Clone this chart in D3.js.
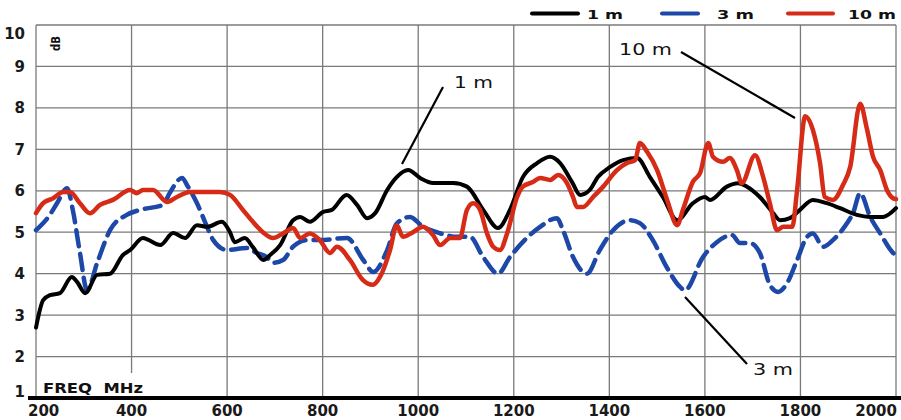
<!DOCTYPE html>
<html>
<head>
<meta charset="utf-8">
<script src="https://cdn.jsdelivr.net/npm/d3@7/dist/d3.min.js"></script>
<style>
  html, body { margin: 0; padding: 0; background: #fff; }
  svg { display: block; }
</style>
</head>
<body>
<div id="chart"></div>
<script>
// ---- Data ----
const xTicks = [200, 400, 600, 800, 1000, 1200, 1400, 1600, 1800, 2000];
const yTicks = [1, 2, 3, 4, 5, 6, 7, 8, 9, 10];
const seriesNames = ["1 m", "3 m", "10 m"];

const freq1m = [200, 215, 229, 250, 275, 286, 303, 328, 355, 382, 397, 424, 434, 460, 487, 512, 537, 558, 589, 606, 616, 637, 654, 676, 690, 711, 738, 753, 773, 801, 819, 850, 872, 893, 910, 935, 955, 979, 1004, 1031, 1073, 1102, 1136, 1167, 1192, 1219, 1249, 1276, 1297, 1322, 1339, 1359, 1376, 1401, 1429, 1458, 1485, 1512, 1542, 1575, 1600, 1611, 1646, 1669, 1688, 1715, 1743, 1757, 1778, 1799, 1826, 1855, 1883, 1918, 1946, 1973, 2000];
const db1m = [2.7, 3.36, 3.48, 3.53, 3.92, 3.8, 3.53, 3.97, 4.0, 4.45, 4.57, 4.86, 4.82, 4.69, 4.98, 4.86, 5.17, 5.13, 5.25, 5.0, 4.76, 4.86, 4.64, 4.33, 4.45, 4.69, 5.29, 5.37, 5.25, 5.49, 5.54, 5.9, 5.66, 5.34, 5.46, 6.02, 6.33, 6.5, 6.31, 6.19, 6.19, 6.1, 5.54, 5.1, 5.54, 6.33, 6.67, 6.82, 6.67, 6.21, 5.9, 6.02, 6.33, 6.57, 6.74, 6.79, 6.33, 5.85, 5.29, 5.7, 5.85, 5.78, 6.1, 6.18, 6.1, 5.85, 5.46, 5.29, 5.34, 5.54, 5.78, 5.7, 5.58, 5.42, 5.37, 5.37, 5.58];

const freq3m = [200, 229, 244, 265, 277, 292, 307, 328, 355, 390, 418, 466, 480, 506, 516, 537, 558, 571, 600, 641, 662, 683, 696, 717, 738, 767, 794, 851, 885, 906, 935, 955, 983, 1010, 1039, 1081, 1108, 1136, 1167, 1192, 1227, 1255, 1290, 1303, 1324, 1353, 1380, 1408, 1443, 1464, 1491, 1520, 1548, 1558, 1596, 1625, 1657, 1673, 1694, 1715, 1736, 1753, 1772, 1793, 1814, 1826, 1847, 1868, 1897, 1910, 1925, 1946, 1967, 1994, 2000];
const db3m = [5.05, 5.42, 5.7, 6.06, 5.54, 4.5, 3.6, 4.26, 5.05, 5.42, 5.54, 5.66, 5.95, 6.31, 6.14, 5.7, 5.13, 4.81, 4.57, 4.62, 4.5, 4.4, 4.26, 4.33, 4.65, 4.81, 4.81, 4.86, 4.33, 4.04, 4.57, 5.21, 5.37, 5.13, 5.0, 4.89, 4.89, 4.4, 4.0, 4.4, 4.86, 5.13, 5.34, 5.05, 4.4, 4.0, 4.57, 5.05, 5.29, 5.22, 4.81, 4.16, 3.68, 3.6, 4.4, 4.76, 4.93, 4.74, 4.74, 4.5, 3.73, 3.56, 3.77, 4.33, 4.89, 4.97, 4.65, 4.81, 5.21, 5.46, 5.94, 5.37, 4.97, 4.5, 4.45];

const freq10m = [200, 215, 236, 257, 271, 292, 313, 334, 361, 397, 411, 424, 445, 474, 495, 522, 558, 585, 606, 633, 654, 675, 696, 717, 738, 753, 773, 794, 815, 830, 857, 884, 905, 920, 941, 955, 968, 989, 1010, 1031, 1046, 1067, 1087, 1102, 1115, 1129, 1144, 1157, 1171, 1186, 1207, 1219, 1240, 1255, 1276, 1293, 1311, 1324, 1332, 1345, 1366, 1387, 1416, 1437, 1454, 1464, 1479, 1500, 1521, 1542, 1554, 1575, 1590, 1607, 1617, 1638, 1652, 1667, 1677, 1705, 1722, 1736, 1751, 1764, 1783, 1793, 1810, 1826, 1841, 1851, 1868, 1889, 1904, 1925, 1939, 1952, 1967, 1981, 1994, 2000];
const db10m = [5.46, 5.7, 5.82, 5.97, 5.97, 5.7, 5.46, 5.66, 5.78, 6.02, 5.94, 6.02, 6.02, 5.73, 5.85, 5.97, 5.97, 5.97, 5.9, 5.54, 5.25, 5.0, 4.86, 4.97, 5.1, 4.86, 4.97, 4.81, 4.5, 4.65, 4.33, 3.85, 3.73, 3.92, 4.57, 5.17, 4.89, 5.0, 5.13, 4.93, 4.69, 4.86, 4.86, 5.54, 5.7, 5.55, 4.97, 4.65, 4.57, 4.97, 5.85, 6.1, 6.21, 6.31, 6.26, 6.38, 6.19, 5.85, 5.61, 5.61, 5.85, 6.1, 6.5, 6.67, 6.74, 7.15, 6.94, 6.5, 5.78, 5.17, 5.54, 6.22, 6.43, 7.15, 6.82, 6.7, 6.79, 6.5, 6.18, 6.86, 6.33, 5.7, 5.05, 5.13, 5.13, 6.02, 7.8, 7.47, 6.67, 5.85, 5.78, 6.14, 6.57, 8.1, 7.5, 6.82, 6.5, 6.02, 5.82, 5.8];

// ---- Layout ----
const W = 901, H = 420;
const svg = d3.select("#chart").append("svg")
  .attr("width", W).attr("height", H)
  .style("font-family", "'DejaVu Sans', sans-serif");

svg.append("rect").attr("width", W).attr("height", H).attr("fill", "#fff");

const x = d3.scaleLinear().domain([200, 2000]).range([36, 896]);
const y = d3.scaleLinear().domain([1, 10]).range([398, 25]);

const gridColor = "#7a7a7a";

// horizontal grid lines
svg.append("g").selectAll("line").data(yTicks.filter(d => d > 1)).join("line")
  .attr("x1", x(200)).attr("x2", x(2000))
  .attr("y1", d => y(d)).attr("y2", d => y(d))
  .attr("stroke", gridColor).attr("stroke-width", 1.3);

// vertical grid lines
svg.append("g").selectAll("line").data(xTicks).join("line")
  .attr("x1", d => x(d)).attr("x2", d => x(d))
  .attr("y1", y(10)).attr("y2", y(1))
  .attr("stroke", gridColor).attr("stroke-width", 1.3);

// white box behind the FREQ MHz label
svg.append("rect").attr("x", x(200) + 1.5).attr("y", 373)
  .attr("width", 115).attr("height", 24).attr("fill", "#fff");

// y tick labels
svg.append("g").selectAll("text").data(yTicks).join("text")
  .attr("x", 25).attr("y", d => y(d))
  .attr("dy", d => d === 10 ? "0.95em" : (d === 1 ? "-0.05em" : "0.36em"))
  .attr("text-anchor", "end")
  .attr("font-size", 15).attr("font-weight", "bold").attr("fill", "#1a1a1a")
  .text(d => d);

// x tick labels
svg.append("g").selectAll("text").data(xTicks).join("text")
  .attr("x", d => d === 200 ? x(d) - 8 : (d === 2000 ? x(d) + 1 : x(d)))
  .attr("y", 416)
  .attr("text-anchor", d => d === 200 ? "start" : (d === 2000 ? "end" : "middle"))
  .attr("font-size", 15).attr("font-weight", "bold").attr("fill", "#1a1a1a")
  .text(d => d);

// thick bottom axis
svg.append("line").attr("x1", 28).attr("x2", W).attr("y1", y(1)).attr("y2", y(1))
  .attr("stroke", "#000").attr("stroke-width", 4);

// axis titles
svg.append("text").attr("x", 43).attr("y", 393)
  .attr("font-size", 14.5).attr("font-weight", "bold").attr("fill", "#111")
  .attr("xml:space", "preserve")
  .attr("textLength", 100).attr("lengthAdjust", "spacingAndGlyphs")
  .text("FREQ  MHz");
svg.append("text").attr("transform", "translate(60,51) rotate(-90)")
  .attr("font-size", 13).attr("font-weight", "bold").attr("fill", "#111")
  .attr("textLength", 15).attr("lengthAdjust", "spacingAndGlyphs")
  .text("dB");

// ---- Series ----
const line = d3.line().x(d => x(d[0])).y(d => y(d[1])).curve(d3.curveMonotoneX);
const zip = (a, b) => a.map((v, i) => [v, b[i]]);

const series = [
  { name: seriesNames[0], data: zip(freq1m, db1m), color: "#000000", width: 4, dash: null },
  { name: seriesNames[1], data: zip(freq3m, db3m), color: "#1d48a8", width: 4.5, dash: "16,8" },
  { name: seriesNames[2], data: zip(freq10m, db10m), color: "#d62b17", width: 4.5, dash: null }
];

// draw order: 3 m, 1 m, 10 m (red on top)
[series[1], series[0], series[2]].forEach(s => {
  svg.append("path").datum(s.data)
    .attr("d", line)
    .attr("fill", "none")
    .attr("stroke", s.color)
    .attr("stroke-width", s.width)
    .attr("stroke-linejoin", "round")
    .attr("stroke-linecap", "round")
    .attr("stroke-dasharray", s.dash);
});

// ---- Legend ----
const legendLine = [[532, 578], [662, 698], [788, 833]];
const legendText = [587, 717, 848];
const legendLen = [36, 37, 48];
const lg = svg.append("g");
series.forEach((s, i) => {
  lg.append("line").attr("x1", legendLine[i][0]).attr("x2", legendLine[i][1])
    .attr("y1", 13.5).attr("y2", 13.5)
    .attr("stroke", s.color).attr("stroke-width", 4).attr("stroke-linecap", "round");
  lg.append("text").attr("x", legendText[i]).attr("y", 19)
    .attr("font-size", 13).attr("font-weight", "bold").attr("fill", "#111")
    .attr("textLength", legendLen[i]).attr("lengthAdjust", "spacingAndGlyphs")
    .text(s.name);
});

// ---- Annotations ----
const annText = [
  { t: "1 m", x: 454, y: 88, len: 39 },
  { t: "10 m", x: 619, y: 55, len: 53 },
  { t: "3 m", x: 753, y: 375, len: 40 }
];
svg.append("g").selectAll("text").data(annText).join("text")
  .attr("x", d => d.x).attr("y", d => d.y)
  .attr("font-size", 16.5).attr("fill", "#111")
  .attr("textLength", d => d.len).attr("lengthAdjust", "spacingAndGlyphs")
  .text(d => d.t);

const leaders = [
  [[443, 87], [402, 164]],
  [[681, 52], [795, 118]],
  [[685, 297], [747, 364]]
];
svg.append("g").selectAll("line").data(leaders).join("line")
  .attr("x1", d => d[0][0]).attr("y1", d => d[0][1])
  .attr("x2", d => d[1][0]).attr("y2", d => d[1][1])
  .attr("stroke", "#000").attr("stroke-width", 2.2);
</script>
</body>
</html>
